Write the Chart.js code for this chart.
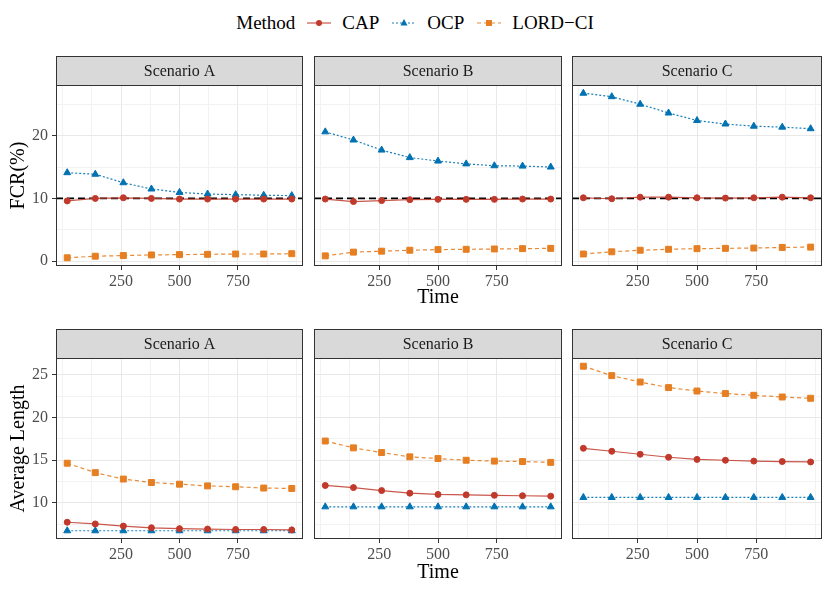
<!DOCTYPE html>
<html>
<head>
<meta charset="utf-8">
<script src="https://cdn.jsdelivr.net/npm/chart.js@4.4.0/dist/chart.umd.min.js"></script>
<style>
  body { margin: 0; background: #fff; width: 830px; height: 593px; position: relative; overflow: hidden;
         font-family: "Liberation Serif", "DejaVu Serif", serif; }
  .panel { position: absolute; }
  #legend { position: absolute; top: 11px; left: 0; width: 830px; display: flex; justify-content: center;
            align-items: center; font-size: 19px; color: #000; line-height: 24px; }
  #legend .ttl { margin-right: 12px; }
  #legend svg { margin-right: 11px; }
  #legend .lab { margin-right: 13px; }
  #legend .lab:last-child { margin-right: 0; }
</style>
</head>
<body>
<div id="legend"></div>
<script>
// ---- data ----
const times = [20, 140, 260, 380, 500, 620, 740, 860, 980];
const methods = ["CAP", "OCP", "LORD\u2212CI"];
const scenarios = ["Scenario A", "Scenario B", "Scenario C"];

const fcrCapA  = [9.6, 10.0, 10.1, 10.0, 9.9, 9.9, 9.9, 9.9, 9.9];
const fcrOcpA  = [14.1, 13.85, 12.5, 11.5, 10.95, 10.7, 10.6, 10.5, 10.45];
const fcrLordA = [0.55, 0.8, 0.9, 1.0, 1.05, 1.1, 1.15, 1.15, 1.2];
const fcrCapB  = [9.9, 9.5, 9.65, 9.8, 9.85, 9.85, 9.85, 9.9, 9.9];
const fcrOcpB  = [20.6, 19.3, 17.7, 16.5, 15.95, 15.5, 15.2, 15.15, 15.0];
const fcrLordB = [0.85, 1.45, 1.6, 1.75, 1.85, 1.9, 1.95, 2.0, 2.05];
const fcrCapC  = [10.1, 9.95, 10.2, 10.2, 10.1, 10.05, 10.1, 10.2, 10.1];
const fcrOcpC  = [26.75, 26.2, 25.0, 23.6, 22.4, 21.85, 21.5, 21.35, 21.1];
const fcrLordC = [1.15, 1.5, 1.75, 1.9, 2.0, 2.05, 2.1, 2.2, 2.25];

const lenCapA  = [7.75, 7.55, 7.3, 7.1, 7.0, 6.95, 6.9, 6.9, 6.85];
const lenOcpA  = [6.75, 6.75, 6.75, 6.75, 6.75, 6.75, 6.75, 6.75, 6.75];
const lenLordA = [14.65, 13.55, 12.8, 12.4, 12.2, 12.0, 11.9, 11.75, 11.7];
const lenCapB  = [12.05, 11.8, 11.45, 11.15, 11.0, 10.95, 10.9, 10.85, 10.8];
const lenOcpB  = [9.55, 9.55, 9.55, 9.55, 9.55, 9.55, 9.55, 9.55, 9.55];
const lenLordB = [17.25, 16.45, 15.9, 15.4, 15.2, 15.0, 14.9, 14.85, 14.75];
const lenCapC  = [16.4, 16.05, 15.7, 15.35, 15.1, 15.0, 14.9, 14.85, 14.8];
const lenOcpC  = [10.65, 10.65, 10.65, 10.65, 10.65, 10.65, 10.65, 10.65, 10.65];
const lenLordC = [26.0, 24.9, 24.15, 23.5, 23.1, 22.8, 22.6, 22.4, 22.25];

const fcrTarget = 10;

const xGridTicks = [0, 125, 250, 375, 500, 625, 750, 875, 1000];
const xTickLabels = [250, 500, 750];
const fcrGridTicks = [0, 5, 10, 15, 20, 25];
const fcrTickLabels = [0, 10, 20];
const lenGridTicks = [7.5, 10, 12.5, 15, 17.5, 20, 22.5, 25];
const lenTickLabels = [10, 15, 20, 25];

// ---- styles ----
const colors = ["#c0392b", "#0072b2", "#e67e22"];
const lineColors = ["rgba(192,57,43,0.85)", "rgba(0,114,178,0.9)", "rgba(230,126,34,0.9)"];
const dashes = [[], [2, 2], [4, 3]];
const shapes = ["circle", "triangle", "rect"];
const radii = [3, 4, 4.2];
const serif = "'Liberation Serif', 'DejaVu Serif', serif";

// panel boxes (pixels)
const cols = [
  { left: 0, plotLeft: 56, right: 303 },
  { left: 314, plotLeft: 314, right: 562 },
  { left: 572, plotLeft: 572, right: 822 }
];
const rows = [
  { top: 56, plotTop: 85, plotBottom: 266, bottom: 312, titlePad: 4 },
  { top: 329, plotTop: 358, plotBottom: 539, bottom: 585, titlePad: 2 }
];

function expand(arrs) {
  let lo = Infinity, hi = -Infinity;
  arrs.forEach(a => a.forEach(v => { lo = Math.min(lo, v); hi = Math.max(hi, v); }));
  const pad = (hi - lo) * 0.05;
  return [lo - pad, hi + pad];
}
const fcrRange = expand([fcrCapA, fcrOcpA, fcrLordA, fcrCapB, fcrOcpB, fcrLordB, fcrCapC, fcrOcpC, fcrLordC]);
const lenRange = expand([lenCapA, lenOcpA, lenLordA, lenCapB, lenOcpB, lenLordB, lenCapC, lenOcpC, lenLordC]);
const xRange = [times[0] - (times[times.length - 1] - times[0]) * 0.05,
                times[times.length - 1] + (times[times.length - 1] - times[0]) * 0.05];

// strip + panel border
const stripPlugin = {
  id: "strip",
  afterDraw(chart, args, opts) {
    const { ctx, chartArea: a } = chart;
    const h = 29;
    ctx.save();
    ctx.fillStyle = "#d9d9d9";
    ctx.fillRect(a.left, a.top - h, a.right - a.left, h);
    ctx.strokeStyle = "#333333";
    ctx.lineWidth = 1;
    ctx.strokeRect(Math.round(a.left) + 0.5, Math.round(a.top - h) + 0.5, Math.round(a.right - a.left) - 1, h);
    ctx.strokeRect(Math.round(a.left) + 0.5, Math.round(a.top) + 0.5, Math.round(a.right - a.left) - 1, Math.round(a.bottom - a.top) - 1);
    ctx.fillStyle = "#1a1a1a";
    ctx.font = "16px " + serif;
    ctx.textAlign = "center";
    ctx.textBaseline = "middle";
    ctx.fillText(opts.text, (a.left + a.right) / 2, a.top - h / 2 + 1);
    ctx.restore();
  }
};

// dashed target line
const refLinePlugin = {
  id: "refLine",
  beforeDatasetsDraw(chart, args, opts) {
    if (opts.value == null) return;
    const { ctx, chartArea: a } = chart;
    const y = chart.scales.y.getPixelForValue(opts.value);
    ctx.save();
    ctx.strokeStyle = "#000";
    ctx.lineWidth = 1.8;
    ctx.setLineDash([7, 4]);
    ctx.beginPath();
    ctx.moveTo(a.left, y);
    ctx.lineTo(a.right, y);
    ctx.stroke();
    ctx.restore();
  }
};

function makePanel(r, c, series, yRange, yGrid, yLabels, yTitle, ref) {
  const row = rows[r], col = cols[c];
  const div = document.createElement("div");
  div.className = "panel";
  div.style.left = col.left + "px";
  div.style.top = row.top + "px";
  div.style.width = (col.right + 1 - col.left) + "px";
  div.style.height = (row.bottom - row.top) + "px";
  const cv = document.createElement("canvas");
  div.appendChild(cv);
  document.body.appendChild(div);

  const yWidth = col.plotLeft - col.left;
  const xHeight = row.bottom - row.plotBottom;
  const tickFont = { family: serif, size: 16 };

  new Chart(cv, {
    type: "line",
    data: {
      datasets: methods.map((m, i) => ({
        label: m,
        data: times.map((t, j) => ({ x: t, y: series[i][j] })),
        borderColor: lineColors[i],
        backgroundColor: colors[i],
        pointBackgroundColor: colors[i],
        pointBorderColor: colors[i],
        pointBorderWidth: 1,
        pointStyle: shapes[i],
        pointRadius: radii[i],
        borderWidth: 1.2,
        borderDash: dashes[i],
        tension: 0,
        fill: false
      }))
    },
    options: {
      responsive: true,
      maintainAspectRatio: false,
      animation: false,
      events: [],
      layout: { autoPadding: false, padding: { top: 29, right: 1, left: 0, bottom: 0 } },
      plugins: {
        legend: { display: false },
        tooltip: { enabled: false },
        strip: { text: scenarios[c] },
        refLine: { value: ref }
      },
      scales: {
        x: {
          type: "linear",
          min: xRange[0],
          max: xRange[1],
          afterBuildTicks: s => { s.ticks = xGridTicks.map(v => ({ value: v })); },
          afterFit: s => { s.height = xHeight; s.paddingLeft = 0; s.paddingRight = 0; },
          border: { display: false },
          grid: {
            color: ctx => xTickLabels.includes(ctx.tick.value) ? "#e8e8e8" : "#f2f2f2",
            lineWidth: 1,
            tickLength: 4,
            tickColor: ctx => xTickLabels.includes(ctx.tick.value) ? "#333333" : "rgba(0,0,0,0)"
          },
          ticks: {
            autoSkip: false,
            maxRotation: 0,
            color: "#4d4d4d",
            font: tickFont,
            padding: 2,
            callback: v => xTickLabels.includes(v) ? String(v) : ""
          },
          title: {
            display: c === 1,
            text: "Time",
            color: "#000",
            font: { family: serif, size: 20, lineHeight: 1 },
            padding: { top: 0, bottom: row.titlePad }
          }
        },
        y: {
          type: "linear",
          min: yRange[0],
          max: yRange[1],
          afterBuildTicks: s => { s.ticks = yGrid.map(v => ({ value: v })); },
          afterFit: s => { s.width = yWidth; s.paddingTop = 0; s.paddingBottom = 0; },
          border: { display: false },
          grid: {
            color: ctx => yLabels.includes(ctx.tick.value) ? "#e8e8e8" : "#f2f2f2",
            lineWidth: 1,
            drawTicks: c === 0,
            tickLength: 4,
            tickColor: ctx => yLabels.includes(ctx.tick.value) ? "#333333" : "rgba(0,0,0,0)"
          },
          ticks: {
            display: c === 0,
            autoSkip: false,
            color: "#4d4d4d",
            font: tickFont,
            padding: 4,
            callback: v => yLabels.includes(v) ? String(v) : ""
          },
          title: {
            display: c === 0,
            text: yTitle,
            color: "#000",
            font: { family: serif, size: 20, lineHeight: 1 },
            padding: { top: 9, bottom: 0 }
          }
        }
      }
    },
    plugins: [stripPlugin, refLinePlugin]
  });
}

makePanel(0, 0, [fcrCapA, fcrOcpA, fcrLordA], fcrRange, fcrGridTicks, fcrTickLabels, "FCR(%)", fcrTarget);
makePanel(0, 1, [fcrCapB, fcrOcpB, fcrLordB], fcrRange, fcrGridTicks, fcrTickLabels, "FCR(%)", fcrTarget);
makePanel(0, 2, [fcrCapC, fcrOcpC, fcrLordC], fcrRange, fcrGridTicks, fcrTickLabels, "FCR(%)", fcrTarget);
makePanel(1, 0, [lenCapA, lenOcpA, lenLordA], lenRange, lenGridTicks, lenTickLabels, "Average Length", null);
makePanel(1, 1, [lenCapB, lenOcpB, lenLordB], lenRange, lenGridTicks, lenTickLabels, "Average Length", null);
makePanel(1, 2, [lenCapC, lenOcpC, lenLordC], lenRange, lenGridTicks, lenTickLabels, "Average Length", null);

// ---- legend ----
function keySvg(i) {
  const dash = dashes[i].length ? ` stroke-dasharray="${dashes[i].join(" ")}"` : "";
  let mark;
  if (shapes[i] === "circle") mark = `<circle cx="12" cy="6" r="3" fill="${colors[i]}"/>`;
  else if (shapes[i] === "triangle") mark = `<polygon points="12,2 15.5,8.5 8.5,8.5" fill="${colors[i]}"/>`;
  else mark = `<rect x="9" y="3" width="6" height="6" fill="${colors[i]}"/>`;
  return `<svg width="24" height="12" viewBox="0 0 24 12"><line x1="0" y1="6" x2="24" y2="6" stroke="${lineColors[i]}" stroke-width="1.2"${dash}/>${mark}</svg>`;
}
const legend = document.getElementById("legend");
legend.innerHTML = `<span class="ttl">Method</span>` +
  methods.map((m, i) => keySvg(i) + `<span class="lab">${m}</span>`).join("");
</script>
</body>
</html>
